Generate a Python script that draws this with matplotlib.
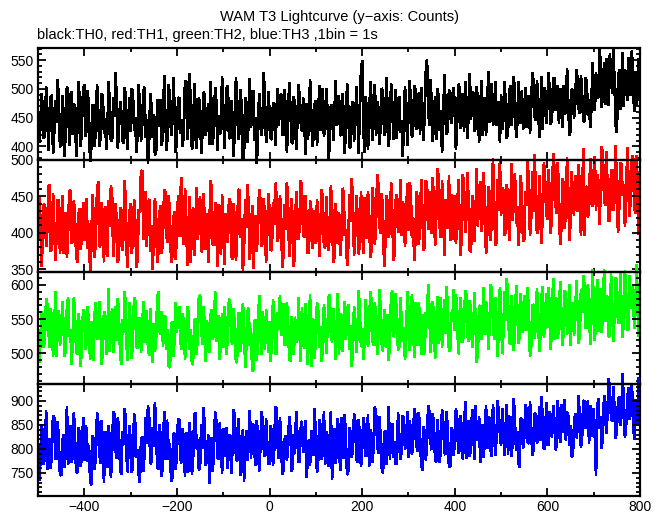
import numpy as np
import matplotlib
matplotlib.use("Agg")
import matplotlib.pyplot as plt
from matplotlib.ticker import MultipleLocator

plt.rcParams['font.family'] = ['Liberation Sans', 'DejaVu Sans']

# time (s): samples on the 5 s grid and on the half-way points
time_s = list(range(-500, 801, 5))
time_mid = [t + 2.5 for t in range(-500, 800, 5)]

th0 = [
    452, 431, 470, 418, 463, 447, 489, 425, 441, 476, 402, 458, 437, 495, 444, 420, 466, 433, 479, 446,
    508, 428, 455, 396, 471, 440, 462, 415, 487, 449, 430, 468, 411, 452, 480, 437, 459, 405, 474, 443,
    426, 491, 450, 419, 465, 438, 503, 447, 412, 470, 455, 388, 462, 481, 434, 451, 423, 476, 442, 460,
    417, 485, 446, 429, 512, 440, 458, 409, 473, 436, 466, 421, 490, 448, 403, 462, 439, 478, 454, 427,
    469, 443, 506, 415, 452, 437, 480, 424, 461, 391, 475, 446, 432, 497, 450, 418, 464, 440, 484, 429,
    457, 412, 473, 445, 436, 492, 421, 459, 448, 470, 405, 466, 439, 487, 426, 453, 475, 434, 461, 416,
    480, 447, 428, 500, 441, 463, 410, 472, 452, 437, 488, 419, 457, 444, 466, 398, 478, 438, 456, 471,
    549, 390, 463, 429, 482, 447, 418, 468, 440, 495, 425, 459, 436, 474, 451, 413, 486, 445, 430, 467,
    455, 478, 432, 498, 447, 420, 469, 458, 551, 437, 476, 449, 412, 488, 463, 441, 472, 428, 493, 456,
    466, 439, 502, 451, 425, 480, 461, 446, 494, 433, 470, 457, 418, 485, 468, 442, 509, 453, 437, 477,
    490, 448, 471, 427, 505, 462, 483, 440, 474, 497, 455, 432, 488, 469, 513, 446, 478, 460, 429, 501,
    472, 494, 451, 518, 466, 439, 485, 506, 460, 479, 427, 497, 474, 520, 458, 489, 445, 511, 482, 467,
    503, 528, 486, 545, 498, 473, 515, 561, 492, 509, 425, 534, 496, 470, 522, 555, 488, 507, 531, 494,
    512,
]
th0_mid = [
    406, 492, 414, 504, 392, 485, 387, 480, 516, 399, 489, 383, 504, 402, 496, 474, 382, 513, 400, 499,
    417, 497, 373, 472, 399, 508, 400, 491, 422, 394, 513, 409, 485, 528, 397, 477, 411, 502, 395, 484,
    501, 428, 390, 508, 409, 496, 416, 370, 491, 416, 385, 482, 434, 402, 523, 392, 508, 419, 519, 389,
    482, 422, 400, 514, 412, 526, 394, 509, 397, 485, 387, 494, 419, 475, 513, 404, 502, 392, 421, 521,
    397, 502, 414, 479, 383, 519, 412, 499, 375, 485, 407, 518, 474, 411, 370, 492, 419, 528, 406, 496,
    414, 475, 402, 501, 485, 421, 499, 390, 511, 407, 487, 394, 508, 441, 484, 385, 412, 516, 399, 474,
    402, 506, 484, 417, 501, 375, 470, 411, 514, 482, 421, 491, 387, 509, 400, 467, 409, 504, 387, 530,
    434, 487, 395, 513, 411, 508, 477, 404, 501, 419, 519, 400, 509, 412, 499, 480, 424, 382, 504, 402,
    515, 415, 506, 430, 493, 503, 411, 529, 466, 517, 408, 486, 500, 427, 389, 525, 421, 498, 440, 503,
    394, 508, 431, 492, 513, 414, 526, 491, 426, 504, 407, 514, 477, 419, 530, 486, 436, 513, 477, 407,
    429, 512, 414, 492, 437, 521, 415, 512, 439, 429, 502, 485, 422, 528, 451, 514, 415, 522, 500, 439,
    529, 438, 519, 463, 506, 500, 432, 456, 536, 419, 499, 449, 533, 465, 523, 443, 519, 453, 432, 546,
    462, 484, 569, 467, 546, 552, 471, 518, 571, 437, 510, 464, 564, 534, 479, 500, 566, 461, 472, 552,
]

th1 = [
    398, 421, 385, 437, 402, 466, 380, 412, 395, 444, 409, 372, 428, 401, 458, 389, 417, 360, 433, 405,
    390, 447, 413, 378, 425, 399, 470, 384, 419, 436, 367, 408, 451, 393, 414, 376, 431, 402, 423, 386,
    440, 397, 415, 363, 428, 484, 404, 381, 446, 410, 392, 422, 373, 437, 401, 455, 387, 418, 368, 429,
    407, 395, 475, 384, 420, 403, 359, 434, 412, 391, 449, 378, 416, 427, 399, 462, 383, 411, 438, 371,
    404, 426, 388, 443, 364, 413, 397, 458, 420, 382, 407, 435, 394, 351, 424, 409, 447, 386, 416, 400,
    431, 377, 412, 452, 398, 421, 369, 405, 439, 390, 415, 383, 429, 408, 461, 394, 418, 374, 433, 402,
    385, 422, 410, 446, 379, 413, 398, 437, 366, 419, 428, 393, 455, 404, 381, 416, 442, 397, 424, 388,
    411, 448, 392, 426, 375, 433, 416, 466, 399, 420, 385, 441, 407, 428, 371, 452, 412, 396, 437, 418,
    403, 458, 421, 389, 444, 412, 430, 380, 467, 415, 399, 436, 422, 476, 394, 427, 445, 406, 389, 432,
    451, 414, 428, 396, 462, 420, 437, 374, 443, 425, 409, 470, 416, 433, 398, 455, 421, 440, 386, 431,
    424, 459, 403, 444, 430, 417, 481, 436, 412, 449, 392, 438, 463, 421, 429, 455, 404, 446, 433, 472,
    418, 452, 437, 491, 426, 444, 405, 468, 433, 458, 415, 447, 478, 429, 456, 440, 396, 463, 435, 482,
    449, 430, 472, 455, 503, 438, 461, 417, 486, 445, 458, 432, 494, 466, 441, 475, 452, 506, 427, 463,
    455,
]
th1_mid = [
    449, 354, 439, 381, 464, 374, 454, 362, 445, 371, 451, 420, 366, 457, 386, 444, 367, 425, 377, 442,
    435, 379, 347, 452, 366, 457, 381, 442, 360, 389, 444, 464, 367, 440, 359, 434, 376, 471, 352, 427,
    371, 445, 352, 432, 485, 391, 456, 440, 374, 350, 447, 360, 428, 371, 459, 394, 451, 359, 420, 364,
    451, 456, 396, 461, 355, 449, 425, 369, 462, 439, 374, 454, 377, 360, 471, 384, 442, 354, 381, 452,
    357, 388, 447, 369, 440, 362, 459, 393, 349, 445, 466, 364, 437, 411, 374, 459, 381, 447, 359, 454,
    376, 442, 468, 388, 451, 352, 439, 469, 367, 447, 354, 457, 391, 471, 398, 451, 372, 444, 379, 430,
    445, 367, 459, 382, 449, 376, 464, 360, 440, 386, 369, 461, 396, 355, 452, 474, 369, 451, 371, 456,
    372, 396, 457, 366, 462, 384, 479, 408, 454, 354, 451, 393, 469, 362, 445, 400, 473, 442, 381, 468,
    469, 393, 362, 457, 384, 473, 376, 471, 405, 457, 476, 383, 488, 408, 471, 369, 413, 478, 452, 391,
    385, 473, 369, 480, 400, 483, 376, 451, 388, 488, 459, 402, 482, 371, 463, 390, 502, 383, 473, 497,
    461, 396, 466, 389, 495, 469, 413, 382, 478, 388, 457, 498, 396, 484, 507, 399, 478, 386, 496, 428,
    486, 399, 509, 438, 496, 384, 474, 406, 503, 390, 484, 424, 436, 494, 396, 515, 462, 421, 501, 436,
    504, 479, 412, 518, 445, 511, 417, 485, 431, 519, 400, 496, 451, 409, 516, 422, 501, 436, 506, 397,
]

th2 = [
    538, 512, 556, 524, 571, 509, 547, 530, 495, 562, 526, 543, 506, 581, 535, 518, 552, 499, 540, 527,
    560, 515, 533, 547, 490, 574, 521, 539, 508, 555, 529, 502, 566, 537, 519, 548, 484, 531, 558, 513,
    541, 525, 577, 507, 550, 532, 516, 563, 497, 536, 544, 521, 590, 528, 510, 553, 535, 479, 546, 523,
    531, 568, 505, 542, 519, 559, 534, 492, 551, 526, 585, 513, 539, 548, 501, 564, 530, 517, 555, 522,
    508, 545, 533, 571, 514, 537, 494, 558, 527, 541, 511, 566, 536, 475, 549, 520, 540, 561, 506, 532,
    547, 518, 556, 500, 535, 526, 573, 512, 544, 488, 538, 553, 519, 531, 567, 507, 546, 529, 481, 550,
    524, 562, 539, 510, 548, 531, 586, 516, 543, 527, 498, 557, 534, 520, 571, 541, 505, 549, 528, 560,
    536, 515, 554, 530, 579, 511, 545, 526, 563, 503, 540, 556, 522, 591, 533, 548, 509, 552, 537, 519,
    561, 528, 546, 574, 512, 543, 557, 499, 538, 569, 525, 550, 534, 515, 582, 541, 529, 560, 506, 547,
    533, 565, 521, 551, 540, 587, 517, 555, 531, 548, 504, 570, 542, 527, 559, 536, 593, 520, 553, 539,
    562, 529, 548, 576, 513, 556, 541, 567, 524, 552, 584, 535, 549, 510, 571, 543, 558, 526, 597, 545,
    537, 568, 552, 520, 579, 546, 561, 531, 589, 554, 512, 573, 548, 565, 527, 559, 601, 538, 570, 549,
    575, 556, 532, 594, 563, 547, 583, 528, 569, 557, 606, 544, 572, 551, 588, 536, 566, 597, 560, 578,
    563,
]
th2_mid = [
    486, 561, 508, 580, 534, 566, 496, 590, 547, 512, 576, 495, 568, 525, 484, 581, 501, 558, 481, 563,
    506, 569, 491, 512, 559, 522, 576, 483, 561, 498, 595, 542, 501, 568, 580, 498, 549, 590, 490, 574,
    493, 581, 510, 552, 501, 576, 554, 508, 566, 486, 503, 580, 532, 561, 554, 506, 481, 542, 496, 574,
    563, 518, 558, 491, 568, 505, 483, 546, 498, 583, 539, 569, 488, 510, 556, 520, 590, 547, 491, 558,
    568, 498, 580, 517, 566, 486, 559, 503, 573, 479, 561, 512, 474, 546, 490, 585, 498, 520, 564, 501,
    488, 578, 500, 559, 585, 549, 513, 574, 493, 554, 498, 517, 581, 488, 515, 573, 484, 586, 542, 493,
    574, 508, 488, 571, 500, 581, 529, 566, 491, 588, 556, 503, 576, 561, 506, 481, 569, 501, 592, 510,
    491, 578, 510, 590, 518, 574, 498, 593, 513, 564, 508, 490, 583, 524, 588, 505, 581, 517, 491, 590,
    504, 586, 494, 525, 574, 498, 520, 560, 600, 501, 576, 492, 583, 571, 508, 579, 598, 503, 560, 593,
    586, 499, 581, 516, 591, 525, 577, 509, 589, 487, 567, 520, 596, 576, 506, 601, 548, 582, 496, 596,
    499, 591, 610, 518, 584, 504, 599, 514, 587, 530, 535, 596, 496, 570, 521, 594, 502, 584, 523, 587,
    596, 506, 610, 581, 521, 605, 511, 591, 528, 601, 572, 526, 606, 515, 593, 613, 538, 601, 513, 623,
    519, 608, 592, 531, 623, 582, 524, 616, 517, 611, 545, 618, 523, 621, 534, 614, 591, 536, 630, 524,
]

th3 = [
    805, 772, 836, 790, 758, 821, 797, 864, 779, 812, 745, 829, 801, 767, 848, 786, 818, 752, 833, 794,
    776, 841, 808, 725, 822, 789, 857, 770, 803, 837, 761, 815, 794, 872, 781, 826, 747, 809, 843, 785,
    818, 764, 852, 799, 731, 826, 788, 811, 866, 774, 805, 840, 757, 821, 793, 778, 849, 812, 739, 830,
    796, 861, 771, 814, 835, 752, 807, 783, 876, 819, 765, 801, 844, 788, 728, 824, 806, 858, 779, 813,
    842, 787, 759, 825, 803, 868, 775, 816, 796, 733, 838, 809, 781, 851, 766, 820, 799, 862, 784, 811,
    770, 834, 798, 885, 781, 816, 754, 827, 806, 845, 762, 791, 830, 774, 858, 802, 741, 819, 839, 787,
    813, 777, 849, 795, 768, 828, 807, 736, 843, 789, 820, 866, 780, 810, 753, 835, 797, 859, 772, 824,
    801, 847, 786, 763, 832, 810, 874, 791, 818, 749, 838, 804, 779, 853, 815, 769, 829, 795, 862, 807,
    783, 841, 817, 870, 794, 826, 756, 835, 812, 879, 798, 847, 773, 823, 809, 856, 788, 831, 764, 839,
    814, 866, 796, 843, 825, 781, 859, 806, 837, 891, 818, 772, 850, 829, 800, 863, 785, 841, 822, 874,
    808, 847, 831, 789, 868, 815, 854, 836, 762, 860, 824, 883, 811, 845, 799, 872, 833, 818, 857, 802,
    843, 878, 825, 861, 809, 850, 893, 834, 817, 869, 848, 786, 874, 839, 858, 826, 901, 845, 812, 866,
    885, 745, 906, 868, 838, 897, 876, 921, 857, 883, 842, 910, 869, 893, 850, 928, 874, 861, 902, 848,
    880,
]
th3_mid = [
    734, 851, 768, 880, 820, 759, 870, 780, 858, 746, 814, 761, 888, 832, 771, 875, 751, 844, 764, 865,
    849, 773, 737, 827, 758, 875, 793, 860, 730, 783, 848, 741, 878, 798, 865, 759, 836, 885, 752, 849,
    751, 873, 783, 746, 817, 754, 866, 890, 769, 844, 897, 763, 851, 742, 878, 860, 778, 732, 832, 758,
    863, 781, 843, 742, 768, 856, 747, 871, 800, 756, 851, 887, 766, 829, 793, 754, 877, 781, 854, 749,
    785, 844, 829, 749, 882, 783, 863, 744, 841, 810, 775, 880, 849, 790, 860, 754, 878, 800, 863, 768,
    848, 766, 887, 805, 865, 747, 820, 776, 868, 754, 831, 878, 773, 844, 792, 860, 781, 766, 797, 885,
    751, 861, 778, 877, 836, 764, 877, 802, 769, 863, 756, 820, 871, 746, 844, 783, 873, 780, 861, 764,
    866, 786, 871, 841, 771, 888, 809, 868, 759, 832, 768, 888, 844, 783, 769, 875, 778, 870, 800, 877,
    859, 788, 885, 806, 876, 767, 847, 777, 890, 815, 873, 779, 862, 771, 883, 794, 878, 762, 844, 786,
    884, 791, 869, 779, 898, 855, 784, 883, 777, 821, 867, 844, 782, 891, 867, 798, 893, 786, 901, 832,
    884, 786, 893, 862, 784, 905, 796, 772, 864, 801, 893, 814, 899, 787, 874, 811, 889, 910, 799, 896,
    808, 835, 891, 798, 901, 813, 845, 903, 877, 808, 784, 849, 823, 911, 803, 898, 843, 901, 891, 825,
    824, 882, 843, 800, 911, 832, 946, 865, 931, 821, 895, 850, 957, 824, 900, 861, 936, 819, 878, 948,
]

series = [(th0, th0_mid), (th1, th1_mid), (th2, th2_mid), (th3, th3_mid)]
colors = ['#000000', '#ff0000', '#00ff00', '#0000ff']
ylims = [(376.7, 571.6), (346.7, 500.0), (455.5, 619.3), (702.5, 936.0)]
xlim = (-500, 800)

W, H = 665, 515
fig = plt.figure(figsize=(W / 100, H / 100), dpi=100)

left_px, right_px = 38, 640
top_px, bottom_px = 47.7, 495.7
ph = (bottom_px - top_px) / 4

axes = []
for i in range(4):
    t = top_px + i * ph
    ax = fig.add_axes([left_px / W, 1 - (t + ph) / H, (right_px - left_px) / W, ph / H])
    axes.append(ax)

for i, (ax, (vals, mids), c, yl) in enumerate(zip(axes, series, colors, ylims)):
    t_all = np.concatenate([time_s[:len(vals)], time_mid[:len(mids)]])
    v_all = np.concatenate([vals, mids])
    order = np.argsort(t_all, kind='stable')
    ax.plot(t_all[order], v_all[order], color=c, lw=1.25, clip_on=False, zorder=1,
            solid_joinstyle='miter', solid_capstyle='butt', antialiased=False)
    ax.set_xlim(*xlim)
    ax.set_ylim(*yl)
    ax.xaxis.set_major_locator(MultipleLocator(200))
    ax.xaxis.set_minor_locator(MultipleLocator(100))
    ax.yaxis.set_major_locator(MultipleLocator(50))
    ax.yaxis.set_minor_locator(MultipleLocator(10))
    ax.tick_params(which='both', direction='in', top=True, right=True,
                   color='black', width=1.3, labelsize=10, pad=3)
    ax.tick_params(which='major', length=6)
    ax.tick_params(which='minor', length=3)
    for sp in ax.spines.values():
        sp.set_linewidth(1.6)
        sp.set_zorder(5)
    if i < 3:
        ax.tick_params(labelbottom=False)
    ax.set_facecolor('none')

fig.text(340 / W, 1 - 17 / H, 'WAM T3 Lightcurve (y\u2212axis: Counts)',
         ha='center', va='center', fontsize=10.5)
fig.text(37 / W, 1 - 35 / H, 'black:TH0, red:TH1, green:TH2, blue:TH3 ,1bin = 1s',
         ha='left', va='center', fontsize=10.5)

fig.savefig('out.png', dpi=100)
